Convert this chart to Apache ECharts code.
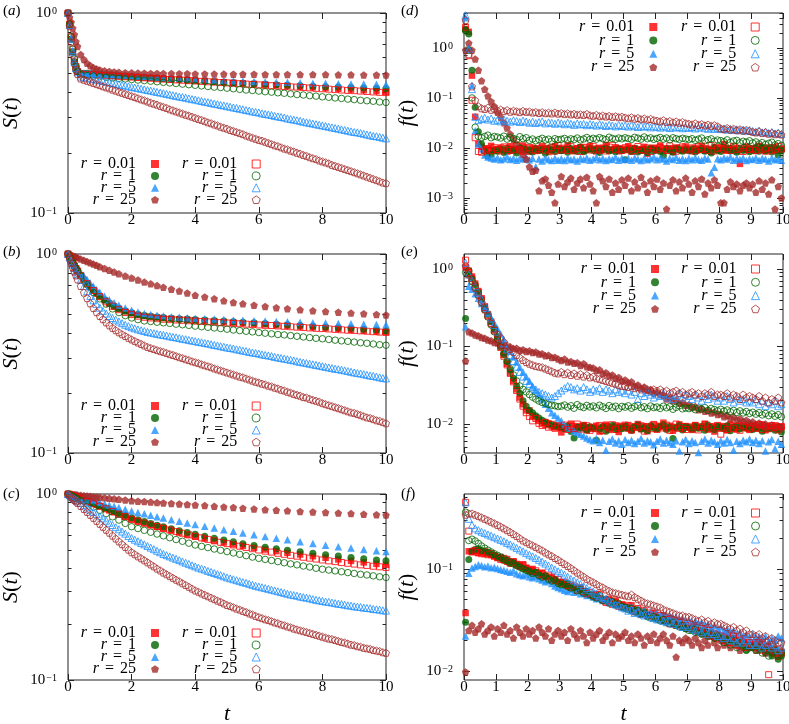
<!DOCTYPE html>
<html lang="en">
<head>
<meta charset="UTF-8">
<title>S(t) and f(t)</title>
<script src="https://cdn.jsdelivr.net/npm/echarts@6.0.0/dist/echarts.min.js"></script>
<style>
  html, body { margin: 0; padding: 0; background: #fff; }
  #main { width: 789px; height: 724px; }
</style>
</head>
<body>
<div id="main"></div>
<script>
// ---- sampling times ----
var tS1 = [0,0.05,0.1,0.15,0.2,0.25,0.3,
  0.4,0.5,0.6,0.7,0.8,0.9,1,1.1,1.2,1.3,1.4,1.5,1.6,1.7,1.8,1.9,2,2.1,2.2,2.3,
  2.4,2.5,2.6,2.7,2.8,2.9,3,3.1,3.2,3.3,3.4,3.5,3.6,3.7,3.8,3.9,4,4.1,4.2,4.3,
  4.4,4.5,4.6,4.7,4.8,4.9,5,5.1,5.2,5.3,5.4,5.5,5.6,5.7,5.8,5.9,6,6.1,6.2,6.3,
  6.4,6.5,6.6,6.7,6.8,6.9,7,7.1,7.2,7.3,7.4,7.5,7.6,7.7,7.8,7.9,8,8.1,8.2,8.3,
  8.4,8.5,8.6,8.7,8.8,8.9,9,9.1,9.2,9.3,9.4,9.5,9.6,9.7,9.8,9.9,10];
var tS2 = [0,0.05,0.1,0.15,0.2,0.25,0.3,
  0.4,0.6,0.8,1,1.2,1.4,1.6,1.8,2,2.2,2.4,2.6,2.8,3,3.2,3.4,3.6,3.8,4,4.2,
  4.4,4.6,4.8,5,5.2,5.4,5.6,5.8,6,6.2,6.4,6.6,6.8,7,7.2,7.4,7.6,7.8,8,8.2,
  8.4,8.6,8.8,9,9.2,9.4,9.6,9.8,10];
var tF = [0,0.05,0.1,0.15,0.2,0.25,0.3, 0.4,0.5,0.6,0.7,0.8,0.9,1, 1.15,1.3,1.45,1.6,1.8,2,
  2.2,2.4,2.6,2.8,3, 3.25,3.5,3.75,4, 4.3,4.6,4.9,5.2,5.5, 5.85,6.2,6.55,6.9, 7.3,7.7,8.1,8.5,8.9,9.3,9.7,10];
var tH = [0.05,0.15,0.25,0.35,0.45,0.55,0.65,0.75,0.85,0.95,
  1.05,1.15,1.25,1.35,1.45,1.55,1.65,1.75,1.85,1.95,
  2.05,2.15,2.25,2.35,2.45,2.55,2.65,2.75,2.85,2.95,
  3.05,3.15,3.25,3.35,3.45,3.55,3.65,3.75,3.85,3.95,
  4.05,4.15,4.25,4.35,4.45,4.55,4.65,4.75,4.85,4.95,
  5.05,5.15,5.25,5.35,5.45,5.55,5.65,5.75,5.85,5.95,
  6.05,6.15,6.25,6.35,6.45,6.55,6.65,6.75,6.85,6.95,
  7.05,7.15,7.25,7.35,7.45,7.55,7.65,7.75,7.85,7.95,
  8.05,8.15,8.25,8.35,8.45,8.55,8.65,8.75,8.85,8.95,
  9.05,9.15,9.25,9.35,9.45,9.55,9.65,9.75,9.85,9.95];

// ---- legend and tick labels ----
var rLabels = ['0.01', '1', '5', '25'];
var sMajor = [0.1, 1];
var dMajor = [0.001, 0.01, 0.1, 1];
var eMajor = [0.01, 0.1, 1];
var fMajor = [0.01, 0.1];

// ---- panel (a): S(t) ----
var aFill001 = [1,.87,.74,.64,.57,.53,.51, .497,.496,.495,.494,.493,.492,.491, .489,.488,.486,.484,.482,.480,
  .478,.476,.474,.472,.470, .467,.465,.462,.460, .457,.454,.451,.448,.445, .442,.439,.435,.432, .428,.425,.421,.418,.414,.411,.407,.404];
var aFill1 = [1,.87,.74,.64,.57,.53,.51, .500,.499,.498,.497,.496,.495,.494, .492,.490,.489,.487,.485,.483,
  .480,.478,.476,.474,.471, .468,.466,.463,.460, .457,.454,.451,.448,.446, .443,.440,.438,.435, .433,.430,.428,.426,.424,.422,.420,.419];
var aFill5 = [1,.88,.75,.65,.58,.54,.515, .505,.503,.502,.500,.499,.498,.497, .495,.493,.491,.490,.488,.486,
  .484,.482,.480,.478,.476, .474,.472,.470,.468, .466,.463,.461,.459,.457, .455,.453,.451,.450, .448,.446,.445,.443,.442,.441,.440,.439];
var aFill25 = [1,.95,.90,.84,.78,.72,.68, .62,.585,.56,.545,.533,.525,.519, .514,.510,.507,.505,.503,.502,
  .501,.500,.499,.499,.498, .498,.497,.497,.496, .496,.495,.495,.494,.494, .494,.493,.493,.493, .492,.492,.492,.491,.491,.490,.490,.490];
var aOpen001 = [1,.88,.76,.66,.59,.54,.51,
  .495,.493,.491,.488,.486,.484,.482,.480,.478,.476,
  .474,.472,.469,.467,.465,.463,.461,.459,.457,.455,
  .453,.451,.449,.447,.445,.443,.441,.439,.437,.435,
  .433,.431,.429,.427,.426,.424,.422,.420,.418,.416,
  .414,.412,.410,.409,.407,.405,.403,.401,.400];
var aOpen1 = [1,.88,.76,.66,.59,.54,.51,
  .490,.487,.484,.480,.477,.474,.471,.468,.465,.462,
  .459,.456,.453,.450,.447,.444,.441,.438,.435,.432,
  .429,.426,.424,.421,.418,.415,.412,.410,.407,.404,
  .402,.399,.397,.394,.391,.389,.386,.384,.381,.379,
  .376,.374,.371,.369,.366,.364,.362,.359,.357];
var aOpen5 = [1,.87,.74,.64,.57,.53,.505,
  .481,.477,.474,.470,.467,.463,.460,.457,.453,.450,
  .447,.443,.440,.437,.434,.430,.427,.424,.421,.418,
  .415,.412,.409,.406,.403,.400,.397,.394,.391,.388,
  .385,.382,.380,.377,.374,.371,.369,.366,.363,.360,
  .358,.355,.352,.350,.347,.345,.342,.340,.337,.335,
  .332,.330,.327,.325,.322,.320,.318,.315,.313,.311,
  .309,.306,.304,.302,.300,.297,.295,.293,.291,.289,
  .286,.284,.282,.280,.278,.276,.274,.272,.270,.268,
  .266,.264,.262,.260,.258,.256,.254,.253,.251,.249,
  .247,.245,.243,.242,.240,.238,.236];
var aOpen25 = [1,.86,.72,.62,.56,.52,.495,
  .470,.464,.458,.453,.447,.441,.436,.430,.425,.420,
  .414,.409,.404,.399,.394,.389,.384,.380,.375,.370,
  .366,.361,.356,.352,.348,.343,.339,.335,.330,.326,
  .322,.318,.314,.310,.307,.303,.299,.295,.292,.288,
  .284,.281,.277,.274,.270,.267,.264,.260,.257,.254,
  .251,.248,.244,.241,.238,.235,.232,.230,.227,.224,
  .221,.218,.216,.213,.210,.208,.205,.203,.200,.198,
  .195,.193,.190,.188,.186,.183,.181,.179,.177,.174,
  .172,.170,.168,.166,.164,.162,.160,.158,.156,.154,
  .152,.150,.148,.146,.144,.142,.141];

// ---- panel (b): S(t) ----
var bFill001 = [1,.965,.93,.9,.87,.845,.82, .777,.74,.708,.68,.655,.632,.612, .586,.563,.545,.530,.515,.503,
  .494,.488,.483,.479,.476, .473,.470,.467,.464, .461,.458,.455,.452,.449, .446,.443,.439,.436, .432,.428,.424,.420,.416,.412,.408,.405];
var bFill1 = [1,.967,.935,.905,.877,.85,.826, .782,.745,.712,.683,.658,.635,.615, .588,.565,.547,.532,.517,.506,
  .497,.491,.486,.482,.479, .476,.473,.471,.468, .466,.463,.460,.457,.454, .451,.447,.444,.441, .437,.433,.430,.426,.423,.419,.415,.412];
var bFill5 = [1,.975,.95,.925,.90,.877,.855, .815,.778,.745,.715,.688,.664,.642, .613,.589,.569,.552,.535,.521,
  .511,.503,.497,.492,.488, .484,.481,.478,.476, .473,.471,.468,.466,.464, .462,.460,.458,.456, .454,.452,.450,.448,.446,.444,.442,.441];
var bFill25 = [1,.993,.986,.979,.971,.964,.957, .943,.93,.916,.903,.89,.877,.864, .846,.828,.811,.795,.776,.758,
  .741,.723,.708,.694,.68, .666,.652,.636,.62, .608,.596,.582,.571,.562, .553,.545,.537,.531, .524,.519,.514,.510,.505,.501,.497,.494];
var bOpen001 = [1,.965,.93,.9,.872,.846,.822,
  .78,.71,.655,.61,.575,.547,.525,.508,.496,.487,.481,.477,.473,.470,
  .468,.466,.464,.462,.460,.458,.456,.454,.452,.450,
  .448,.446,.444,.442,.440,.438,.437,.435,.433,.431,
  .429,.427,.425,.423,.422,.420,.418,.416,.414,.413,
  .411,.409,.407,.405,.404];
var bOpen1 = [1,.965,.93,.9,.87,.845,.82,
  .775,.70,.64,.595,.56,.53,.508,.49,.477,.468,.461,
  .458,.454,.451,.448,.444,.441,.438,.434,.431,.428,
  .425,.422,.419,.415,.412,.409,.406,.403,.400,.397,
  .394,.392,.389,.386,.383,.380,.377,.375,.372,.369,
  .366,.364,.361,.358,.356,.353,.350,.348];
var bOpen5 = [1,.96,.92,.885,.85,.82,.79,
  .74,.69,.65,.615,.585,.56,.537,.518,.502,.488,
  .477,.468,.458,.449,.441,.434,.428,.423,.418,.414,.410,
  .406,.403,.400,.397,.394,.392,.389,.386,.383,.381,
  .378,.375,.373,.370,.367,.365,.362,.360,.357,.355,
  .352,.349,.347,.344,.342,.339,.337,.335,.332,.330,
  .327,.325,.322,.320,.318,.316,.313,.311,.309,.307,
  .304,.302,.300,.298,.296,.294,.292,.289,.287,.285,
  .283,.281,.279,.277,.275,.273,.271,.269,.267,.265,
  .264,.262,.260,.258,.256,.254,.252,.251,.249,.247,
  .245,.244,.242,.240,.238,.237];
var bOpen25 = [1,.95,.9,.855,.815,.78,.745,
  .69,.64,.60,.565,.535,.51,.488,.47,.453,.438,
  .425,.414,.404,.395,.387,.379,.372,.365,.359,.353,.347,
  .341,.337,.333,.329,.325,.322,.318,.314,.311,.307,
  .303,.300,.296,.293,.289,.286,.283,.279,.276,.273,
  .270,.266,.263,.260,.257,.254,.251,.248,.245,.242,
  .240,.237,.234,.231,.228,.226,.223,.221,.218,.216,
  .213,.211,.208,.206,.203,.201,.198,.196,.194,.191,
  .190,.187,.185,.183,.181,.178,.176,.174,.172,.170,
  .168,.166,.164,.162,.160,.159,.157,.155,.153,.151,
  .150,.148,.146,.145,.143,.141];

// ---- panel (c): S(t) ----
var cFill001 = [1,.992,.985,.977,.97,.962,.955, .941,.927,.913,.9,.887,.874,.858, .837,.816,.797,.778,.755,.73,
  .712,.696,.68,.666,.652, .636,.62,.605,.591, .576,.562,.549,.537,.526, .514,.503,.493,.483, .473,.463,.454,.445,.437,.429,.421,.416];
var cFill1 = [1,.993,.986,.979,.972,.965,.958, .944,.93,.917,.904,.891,.878,.865, .846,.827,.809,.791,.768,.746,
  .728,.711,.695,.68,.666, .65,.635,.62,.607, .592,.578,.565,.553,.541, .529,.518,.508,.499, .489,.48,.472,.464,.456,.449,.442,.437];
var cFill5 = [1,.995,.99,.985,.98,.975,.97, .96,.95,.94,.93,.92,.91,.90, .886,.872,.858,.845,.828,.81,
  .796,.782,.768,.755,.742, .728,.713,.699,.685, .671,.657,.643,.63,.618, .604,.591,.579,.567, .554,.542,.531,.521,.512,.503,.495,.49];
var cFill25 = [1,.998,.996,.994,.992,.99,.988, .984,.98,.976,.972,.968,.964,.96, .954,.948,.942,.936,.928,.92,
  .915,.91,.905,.90,.895, .89,.884,.879,.873, .866,.859,.852,.846,.839, .831,.824,.818,.812, .806,.801,.796,.79,.785,.779,.774,.77];
var cOpen001 = [1,.992,.985,.977,.97,.962,.955,
  .94,.912,.885,.859,.832,.805,.78,.755,.731,
  .714,.698,.683,.668,.654,.641,.628,.615,.603,.592,
  .581,.570,.560,.550,.541,.532,.524,.516,.508,.500,
  .493,.487,.480,.474,.468,.463,.457,.452,.447,.442,
  .437,.433,.428,.424,.420,.416,.413,.409,.406,.403];
var cOpen1 = [1,.99,.98,.97,.96,.95,.94,
  .921,.885,.85,.817,.785,.754,.724,.695,.667,
  .652,.638,.623,.609,.596,.582,.569,.557,.544,.532,
  .523,.515,.506,.498,.490,.482,.474,.466,.458,.451,
  .445,.439,.433,.427,.421,.416,.410,.405,.399,.394,
  .390,.386,.382,.378,.374,.370,.367,.363,.359,.356];
var cOpen5 = [1,.986,.973,.959,.946,.933,.920,
  .895,.871,.847,.824,.802,.780,.759,
  .739,.719,.700,.681,.663,.646,.628,.612,.595,.580,
  .568,.557,.546,.536,.525,.515,.505,.495,.486,.476,
  .469,.462,.455,.448,.441,.434,.427,.421,.414,.408,
  .402,.397,.392,.386,.381,.376,.371,.366,.361,.356,
  .352,.348,.344,.340,.336,.333,.329,.325,.321,.318,
  .315,.312,.309,.306,.303,.300,.297,.294,.291,.288,
  .286,.284,.281,.279,.277,.275,.272,.270,.268,.266,
  .264,.263,.261,.259,.257,.256,.254,.252,.251,.249,
  .248,.247,.245,.244,.243,.241,.240,.239,.237,.236];
var cOpen25 = [1,.982,.964,.946,.929,.912,.895,
  .862,.831,.801,.772,.744,.717,.691,.666,.642,.619,.597,.576,
  .556,.537,.519,.502,.486,
  .474,.462,.451,.440,.429,.418,.408,.397,.388,.378,
  .370,.362,.354,.346,.339,.331,.324,.317,.310,.303,
  .298,.292,.287,.282,.277,.272,.267,.263,.258,.253,
  .250,.246,.242,.239,.235,.232,.228,.225,.221,.218,
  .215,.212,.210,.207,.204,.202,.199,.197,.194,.192,
  .189,.187,.185,.183,.181,.179,.177,.175,.173,.171,
  .169,.167,.166,.164,.162,.160,.159,.157,.155,.154,
  .152,.151,.149,.148,.147,.145,.144,.143,.141,.140];

// ---- panel (d): f(t) ----
var dFill001 = [2.4,2.1,0.28,0.042,0.012,.0105,.0098,.0092,.0110,.0088,
  .0095,.0102,.0090,.0085,.0108,.0093,.0087,.0099,.0112,.0090,
  .0084,.0101,.0094,.0089,.0106,.0097,.0083,.0092,.0109,.0100,
  .0088,.0095,.0113,.0091,.0086,.0098,.0104,.0087,.0093,.0110,
  .0096,.0085,.0100,.0092,.0115,.0089,.0094,.0103,.0086,.0097,
  .0091,.0108,.0084,.0099,.0093,.0088,.0105,.0077,.0096,.0101,
  .0090,.0112,.0087,.0094,.0099,.0083,.0102,.0095,.0089,.0107,
  .0092,.0086,.0100,.0094,.0111,.0088,.0096,.0084,.0103,.0091,
  .0098,.0120,.0089,.0095,.0101,.0086,.0048,.0093,.0106,.0090,
  .0097,.0087,.0110,.0094,.0085,.0099,.0092,.0104,.0088,.0096];
var dFill1 = [2.3,1.9,0.36,0.065,0.021,.012,.0085,.0068,.0075,.0090,
  .0086,.0094,.0081,.0099,.0088,.0092,.0079,.0101,.0087,.0095,
  .0090,.0083,.0097,.0089,.0093,.0078,.0100,.0091,.0085,.0096,
  .0088,.0094,.0082,.0098,.0090,.0086,.0103,.0084,.0092,.0097,
  .0089,.0095,.0081,.0093,.0099,.0087,.0091,.0084,.0096,.0088,
  .0058,.0092,.0086,.0097,.0083,.0090,.0094,.0080,.0099,.0087,
  .0093,.0085,.0070,.0096,.0089,.0082,.0098,.0091,.0086,.0094,
  .0088,.0095,.0083,.0090,.0097,.0086,.0092,.0079,.0100,.0089,
  .0085,.0093,.0098,.0087,.0091,.0082,.0096,.0089,.0094,.0084,
  .0090,.0097,.0086,.0105,.0088,.0093,.0083,.0095,.0072,.0089];
var dFill5 = [4.0,1.0,0.18,0.022,0.012,.0095,.0072,.0066,.0063,.0060,
  .0064,.0058,.0061,.0067,.0059,.0062,.0057,.0063,.0060,.0065,
  .0058,.0062,.0042,.0060,.0055,.0064,.0059,.0056,.0062,.0057,
  .0061,.0056,.0063,.0058,.0060,.0055,.0062,.0059,.0064,.0057,
  .0060,.0065,.0058,.0062,.0056,.0061,.0059,.0066,.0057,.0063,
  .0059,.0062,.0057,.0064,.0060,.0056,.0063,.0058,.0061,.0066,
  .0058,.0063,.0060,.0055,.0062,.0059,.0065,.0057,.0061,.0056,
  .0062,.0058,.0064,.0059,.0057,.0063,.0060,.0032,.0041,.0061,
  .0058,.0064,.0060,.0066,.0057,.0062,.0059,.0063,.0056,.0061,
  .0059,.0064,.0057,.0062,.0060,.0055,.0063,.0058,.0061,.0057];
var dFill25 = [0.9,1.25,0.9,0.6,0.36,0.22,0.15,0.11,0.085,0.068,
  .052,.041,.032,.025,.019,.015,.012,.0095,.0075,.0060,
  .0042,.0034,.0036,.0014,.0022,.0024,.0018,.0013,.0008,.0019,
  .0027,.0017,.0021,.0025,.0015,.0020,.0024,.0016,.0026,.0019,
  .0014,.0008,.0027,.0022,.0017,.0024,.0013,.0020,.0015,.0023,
  .0018,.0025,.0014,.0021,.0016,.0026,.0019,.0013,.0022,.0017,
  .0024,.0015,.0020,.0006,.0018,.0023,.0014,.0021,.0016,.0025,
  .0019,.0013,.0022,.0017,.0024,.0012,.0020,.0016,.0023,.0018,
  .0008,.0008,.0015,.0021,.0017,.0019,.0014,.0018,.0020,.0016,
  .0019,.0013,.0022,.0015,.0020,.0012,.0023,.0006,.0017,.0010];
var dOpen001 = [2.6,0.7,0.09,0.016,.0085,.0082,.0090,.0096,.0088,.0101,
  .0093,.0087,.0105,.0098,.0089,.0094,.0110,.0091,.0086,.0099,
  .0103,.0092,.0088,.0097,.0108,.0090,.0095,.0101,.0087,.0112,
  .0094,.0099,.0089,.0106,.0092,.0097,.0085,.0103,.0100,.0091,
  .0108,.0095,.0090,.0099,.0087,.0104,.0113,.0092,.0096,.0089,
  .0101,.0094,.0098,.0088,.0107,.0093,.0090,.0100,.0085,.0096,
  .0092,.0103,.0097,.0089,.0110,.0094,.0086,.0099,.0105,.0091,
  .0095,.0100,.0088,.0106,.0093,.0098,.0090,.0112,.0087,.0097,
  .0102,.0091,.0096,.0089,.0108,.0094,.0099,.0085,.0103,.0093,
  .0098,.0090,.0105,.0092,.0096,.0101,.0088,.0094,.0107,.0095];
var dOpen1 = [2.2,0.9,0.10,0.026,.017,.016,.017,.018,.016,.017,
  .0165,.0158,.0172,.0150,.0162,.0155,.0147,.0168,.0153,.0160,
  .0142,.0151,.0139,.0147,.0156,.0144,.0150,.0137,.0153,.0146,
  .0149,.0155,.0143,.0152,.0147,.0158,.0145,.0151,.0162,.0148,
  .0156,.0150,.0161,.0153,.0147,.0164,.0155,.0149,.0158,.0152,
  .0160,.0154,.0148,.0163,.0157,.0150,.0166,.0153,.0159,.0149,
  .0155,.0162,.0150,.0158,.0146,.0160,.0153,.0148,.0156,.0151,
  .0147,.0153,.0142,.0150,.0158,.0139,.0146,.0152,.0136,.0144,
  .0140,.0133,.0145,.0129,.0138,.0142,.0127,.0136,.0131,.0139,
  .0126,.0132,.0120,.0128,.0117,.0124,.0130,.0115,.0122,.0113];
var dOpen5 = [4.5,0.95,0.15,0.042,.036,.038,.040,.037,.039,.035,
  .0365,.0340,.0372,.0350,.0335,.0358,.0345,.0330,.0352,.0338,
  .0320,.0335,.0315,.0328,.0340,.0310,.0325,.0318,.0305,.0322,
  .0312,.0298,.0318,.0305,.0290,.0310,.0296,.0302,.0285,.0300,
  .0292,.0280,.0298,.0286,.0275,.0290,.0282,.0270,.0288,.0276,
  .0280,.0268,.0285,.0272,.0262,.0278,.0266,.0275,.0258,.0270,
  .0265,.0255,.0272,.0260,.0250,.0268,.0256,.0262,.0248,.0258,
  .0252,.0262,.0245,.0255,.0268,.0248,.0242,.0256,.0240,.0250,
  .0238,.0245,.0232,.0240,.0228,.0236,.0225,.0233,.0220,.0230,
  .0218,.0210,.0222,.0205,.0212,.0198,.0208,.0195,.0202,.0190];
var dOpen25 = [3.6,0.75,0.17,0.09,.068,.062,.060,.064,.058,.061,
  .0560,.0585,.0545,.0570,.0530,.0555,.0540,.0520,.0550,.0528,
  .0535,.0510,.0525,.0500,.0518,.0495,.0508,.0490,.0512,.0485,
  .0498,.0475,.0490,.0468,.0482,.0460,.0472,.0455,.0478,.0450,
  .0440,.0458,.0432,.0445,.0425,.0438,.0418,.0430,.0412,.0422,
  .0405,.0392,.0410,.0385,.0398,.0375,.0388,.0368,.0380,.0360,
  .0352,.0340,.0358,.0332,.0345,.0325,.0338,.0318,.0330,.0312,
  .0305,.0295,.0310,.0288,.0300,.0282,.0292,.0276,.0285,.0270,
  .0245,.0238,.0250,.0232,.0242,.0226,.0236,.0222,.0230,.0218,
  .0210,.0204,.0214,.0198,.0206,.0192,.0200,.0188,.0195,.0185];

// ---- panel (e): f(t) ----
var eFill001 = [1.05,0.95,0.80,0.65,0.52,0.42,0.33,0.26,0.21,0.165,
  .13,.10,.078,.06,.046,.036,.028,.022,.018,.015,
  .0150,.0128,.0122,.0110,.0104,.0097,.0102,.0093,.0090,.0096,
  .0078,.0092,.0088,.0101,.0085,.0094,.0089,.0097,.0083,.0091,
  .0087,.0095,.0080,.0092,.0098,.0084,.0090,.0096,.0079,.0093,
  .0089,.0097,.0083,.0091,.0100,.0086,.0094,.0081,.0092,.0098,
  .0085,.0093,.0104,.0088,.0095,.0082,.0091,.0099,.0087,.0094,
  .0090,.0084,.0097,.0089,.0093,.0101,.0086,.0092,.0080,.0095,
  .0088,.0094,.0083,.0098,.0090,.0085,.0096,.0089,.0092,.0084,
  .0095,.0087,.0091,.0099,.0083,.0093,.0088,.0096,.0085,.0092];
var eFill1 = [0.23,0.85,0.75,0.62,0.5,0.4,0.32,0.26,0.21,0.17,
  .135,.105,.082,.064,.050,.039,.031,.025,.020,.017,
  .0150,.0140,.0128,.0120,.0112,.0106,.0100,.0098,.0095,.0092,
  .0090,.0087,.0094,.0080,.0066,.0091,.0088,.0095,.0084,.0092,
  .0089,.0062,.0086,.0093,.0081,.0090,.0096,.0085,.0091,.0087,
  .0094,.0088,.0083,.0092,.0097,.0086,.0090,.0082,.0095,.0089,
  .0087,.0093,.0098,.0085,.0091,.0065,.0089,.0096,.0084,.0092,
  .0090,.0086,.0094,.0088,.0092,.0083,.0097,.0089,.0085,.0093,
  .0091,.0087,.0095,.0082,.0090,.0094,.0086,.0092,.0088,.0096,
  .0085,.0092,.0089,.0081,.0094,.0087,.0090,.0083,.0091,.0079];
var eFill5 = [0.18,0.6,0.55,0.48,0.42,0.36,0.31,0.27,0.23,0.2,
  .17,.145,.122,.103,.087,.074,.063,.054,.047,.041,
  .036,.031,.027,.024,.021,.018,.016,.014,.013,.012,
  .011,.0098,.0092,.0087,.0082,.0078,.0074,.0070,.0066,.0063,
  .0061,.0065,.0058,.0062,.0046,.0060,.0064,.0057,.0061,.0055,
  .0063,.0058,.0062,.0056,.0060,.0065,.0057,.0061,.0059,.0054,
  .0060,.0064,.0057,.0062,.0058,.0055,.0061,.0045,.0059,.0063,
  .0056,.0061,.0058,.0043,.0060,.0064,.0057,.0062,.0059,.0055,
  .0061,.0057,.0063,.0058,.0046,.0060,.0056,.0062,.0059,.0064,
  .0058,.0062,.0056,.0061,.0045,.0059,.0063,.0048,.0060,.0055];
var eFill25 = [.065,.155,.150,.141,.138,.131,.128,.121,.119,.113,
  .111,.105,.104,.098,.099,.094,.095,.089,.091,.086,
  .088,.084,.085,.080,.081,.076,.077,.072,.073,.069,
  .066,.069,.063,.064,.061,.062,.057,.060,.055,.054,
  .053,.049,.050,.045,.046,.042,.043,.039,.040,.036,
  .037,.034,.035,.031,.032,.029,.030,.027,.028,.025,
  .026,.024,.0235,.021,.022,.020,.0205,.0185,.019,.0175,
  .0178,.0163,.0168,.0153,.0158,.0146,.0150,.0139,.0143,.0133,
  .0136,.0124,.0129,.0118,.0123,.0113,.0117,.0108,.0112,.0104,
  .0107,.0099,.0103,.0096,.0100,.0093,.0097,.0090,.0094,.0089];
var eOpen001 = [1.3,0.9,0.75,0.6,0.5,0.4,0.32,0.25,0.2,0.16,
  .125,.097,.075,.058,.045,.035,.027,.021,.017,.014,
  .0125,.0110,.0118,.0102,.0096,.0105,.0091,.0099,.0088,.0094,
  .0090,.0097,.0085,.0093,.0088,.0100,.0086,.0092,.0095,.0083,
  .0091,.0087,.0096,.0082,.0093,.0089,.0098,.0085,.0090,.0094,
  .0097,.0088,.0084,.0093,.0090,.0095,.0081,.0092,.0087,.0099,
  .0086,.0094,.0089,.0097,.0083,.0091,.0100,.0088,.0093,.0085,
  .0092,.0087,.0095,.0084,.0090,.0098,.0086,.0093,.0089,.0096,
  .0074,.0091,.0085,.0097,.0088,.0093,.0083,.0095,.0090,.0087,
  .0094,.0089,.0098,.0085,.0092,.0087,.0096,.0090,.0084,.0093];
var eOpen1 = [0.9,0.95,0.7,0.58,0.46,0.37,0.3,0.24,0.19,0.155,
  .125,.1,.08,.065,.052,.043,.036,.031,.028,.026,
  .0240,.0222,.0210,.0198,.0190,.0185,.0179,.0175,.0172,.0168,
  .0170,.0176,.0165,.0172,.0160,.0178,.0168,.0163,.0174,.0166,
  .0171,.0162,.0175,.0167,.0159,.0173,.0164,.0170,.0158,.0169,
  .0165,.0172,.0160,.0168,.0175,.0162,.0167,.0158,.0171,.0163,
  .0166,.0159,.0170,.0162,.0168,.0155,.0164,.0172,.0157,.0161,
  .0158,.0165,.0153,.0161,.0156,.0163,.0150,.0159,.0154,.0148,
  .0155,.0147,.0152,.0144,.0150,.0141,.0148,.0139,.0145,.0137,
  .0142,.0134,.0140,.0131,.0137,.0128,.0135,.0126,.0132,.0124];
var eOpen5 = [1.2,0.85,0.7,0.6,0.5,0.41,0.34,0.28,0.23,0.19,
  .155,.13,.11,.092,.077,.065,.055,.047,.041,.036,
  .033,.030,.028,.026,.025,.024,.023,.022,.023,.025,
  .027,.029,.031,.030,.028,.029,.027,.030,.028,.026,
  .028,.027,.029,.026,.028,.027,.025,.028,.026,.027,
  .025,.027,.024,.026,.021,.025,.023,.026,.024,.022,
  .024,.023,.025,.022,.024,.021,.023,.025,.022,.024,
  .023,.021,.024,.022,.020,.023,.021,.024,.022,.020,
  .022,.020,.023,.021,.019,.022,.020,.021,.019,.020,
  .019,.021,.018,.020,.017,.019,.018,.020,.017,.018];
var eOpen25 = [1.1,0.85,0.7,0.57,0.46,0.37,0.3,0.25,0.2,0.17,
  .145,.13,.115,.103,.093,.085,.078,.072,.067,.063,
  .060,.058,.056,.055,.054,.052,.050,.048,.046,.045,
  .047,.044,.046,.043,.045,.042,.044,.041,.043,.040,
  .041,.039,.038,.037,.036,.035,.034,.033,.032,.031,
  .031,.030,.031,.029,.030,.028,.029,.028,.027,.028,
  .027,.028,.026,.027,.025,.026,.027,.025,.026,.024,
  .025,.026,.024,.025,.023,.025,.024,.026,.023,.024,
  .024,.023,.025,.022,.024,.023,.021,.024,.022,.023,
  .022,.021,.023,.020,.022,.019,.021,.020,.022,.019];

// ---- panel (f): f(t) ----
var fFill001 = [.037,.149,.146,.150,.143,.147,.140,.144,.137,.133,
  .128,.131,.122,.125,.116,.119,.112,.108,.111,.103,
  .097,.100,.093,.089,.092,.085,.081,.084,.078,.075,
  .074,.071,.068,.070,.065,.063,.066,.061,.058,.056,
  .054,.057,.052,.050,.048,.051,.046,.049,.044,.045,
  .043,.041,.044,.039,.040,.037,.038,.036,.035,.037,
  .034,.032,.035,.031,.033,.030,.029,.031,.028,.027,
  .027,.026,.028,.025,.024,.026,.023,.024,.022,.023,
  .022,.021,.023,.020,.021,.019,.020,.021,.019,.018,
  .019,.018,.017,.019,.016,.017,.015,.016,.014,.015];
var fFill1 = [.030,.124,.150,.155,.158,.152,.149,.145,.140,.136,
  .131,.127,.122,.118,.113,.116,.109,.105,.101,.098,
  .095,.091,.093,.087,.084,.086,.080,.077,.079,.073,
  .071,.069,.072,.066,.064,.061,.063,.059,.057,.055,
  .053,.055,.051,.049,.050,.046,.047,.044,.045,.042,
  .041,.042,.039,.040,.037,.036,.038,.034,.035,.033,
  .032,.033,.031,.030,.031,.029,.028,.029,.027,.026,
  .026,.025,.027,.024,.023,.025,.022,.023,.021,.022,
  .021,.020,.021,.019,.020,.018,.019,.017,.016,.018,
  .017,.018,.016,.017,.015,.016,.014,.015,.013,.014];
var fFill5 = [.022,.091,.102,.106,.110,.108,.105,.107,.103,.104,
  .101,.099,.097,.095,.093,.096,.090,.088,.086,.089,
  .084,.082,.085,.080,.078,.075,.077,.072,.068,.066,
  .064,.062,.060,.063,.059,.061,.057,.058,.055,.056,
  .053,.051,.052,.049,.050,.047,.048,.045,.046,.043,
  .044,.042,.043,.040,.041,.039,.040,.037,.038,.036,
  .037,.035,.036,.034,.035,.033,.034,.032,.033,.031,
  .032,.030,.031,.029,.030,.028,.029,.027,.028,.026,
  .027,.025,.026,.024,.025,.023,.024,.022,.023,.021,
  .023,.021,.022,.020,.022,.019,.021,.020,.022,.021];
var fFill25 = [.0098,.025,.028,.024,.026,.029,.023,.025,.027,.022,
  .026,.024,.028,.023,.025,.021,.027,.024,.022,.026,
  .023,.025,.021,.027,.024,.022,.026,.020,.023,.025,
  .022,.024,.020,.026,.023,.021,.025,.022,.019,.024,
  .021,.023,.025,.020,.022,.024,.019,.023,.021,.022,
  .024,.020,.022,.019,.023,.021,.018,.022,.020,.023,
  .019,.021,.023,.020,.018,.022,.0137,.020,.019,.021,
  .020,.018,.021,.019,.017,.020,.018,.022,.019,.017,
  .020,.018,.019,.017,.021,.018,.016,.019,.018,.017,
  .018,.016,.019,.017,.015,.018,.016,.017,.015,.016];
var fOpen001 = [.45,.235,.148,.152,.145,.141,.147,.138,.142,.134,
  .130,.124,.127,.119,.114,.117,.110,.106,.109,.101,
  .098,.094,.096,.088,.090,.084,.087,.080,.077,.079,
  .072,.074,.069,.066,.068,.062,.064,.060,.057,.059,
  .055,.053,.056,.050,.047,.049,.045,.047,.043,.044,
  .042,.044,.040,.038,.041,.036,.039,.035,.037,.034,
  .033,.035,.031,.032,.029,.031,.028,.030,.027,.028,
  .026,.027,.025,.024,.026,.023,.025,.022,.023,.021,
  .022,.020,.021,.019,.022,.018,.020,.019,.017,.019,
  .018,.017,.019,.016,.017,.0092,.016,.015,.014,.015];
var fOpen1 = [.36,.19,.196,.188,.178,.168,.160,.153,.147,.141,
  .136,.131,.126,.121,.117,.112,.108,.104,.100,.097,
  .094,.090,.092,.086,.083,.085,.079,.076,.078,.072,
  .070,.072,.067,.065,.066,.061,.063,.058,.060,.056,
  .054,.052,.055,.049,.050,.047,.048,.045,.046,.043,
  .042,.040,.041,.038,.039,.036,.037,.035,.033,.034,
  .033,.031,.032,.030,.029,.030,.028,.027,.028,.026,
  .025,.026,.024,.025,.023,.024,.022,.023,.021,.022,
  .021,.019,.020,.018,.020,.017,.019,.018,.016,.017,
  .017,.016,.017,.015,.016,.014,.015,.016,.014,.015];
var fOpen5 = [.45,.31,.27,.25,.24,.232,.225,.218,.212,.205,
  .199,.193,.187,.180,.174,.167,.161,.155,.149,.143,
  .138,.133,.128,.123,.118,.113,.108,.103,.099,.095,
  .092,.088,.084,.080,.077,.074,.071,.068,.065,.062,
  .060,.057,.055,.053,.051,.049,.047,.045,.044,.042,
  .041,.039,.040,.037,.038,.036,.035,.036,.034,.033,
  .032,.033,.031,.030,.031,.029,.030,.028,.027,.028,
  .027,.026,.025,.026,.024,.025,.023,.024,.023,.022,
  .022,.021,.022,.020,.021,.019,.020,.019,.020,.018,
  .019,.018,.019,.017,.018,.019,.017,.018,.016,.017];
var fOpen25 = [.34,.35,.35,.34,.33,.32,.31,.30,.29,.28,
  .27,.26,.25,.24,.23,.22,.21,.20,.19,.183,
  .176,.170,.164,.158,.152,.145,.139,.134,.128,.123,
  .117,.112,.107,.102,.097,.092,.088,.084,.080,.077,
  .074,.071,.068,.066,.063,.061,.059,.058,.057,.056,
  .055,.054,.056,.053,.051,.049,.047,.046,.045,.044,
  .043,.042,.040,.039,.038,.037,.036,.035,.035,.034,
  .034,.033,.032,.031,.032,.030,.031,.029,.030,.029,
  .029,.028,.027,.026,.027,.025,.026,.024,.025,.023,
  .023,.022,.023,.021,.022,.020,.021,.020,.019,.019];

// series of each panel: [times, values] for r = 0.01, 1, 5, 25
var panelSeries = {
  a: { filled: [[tF, aFill001], [tF, aFill1], [tF, aFill5], [tF, aFill25]],
       open: [[tS2, aOpen001], [tS2, aOpen1], [tS1, aOpen5], [tS1, aOpen25]] },
  b: { filled: [[tF, bFill001], [tF, bFill1], [tF, bFill5], [tF, bFill25]],
       open: [[tS2, bOpen001], [tS2, bOpen1], [tS1, bOpen5], [tS1, bOpen25]] },
  c: { filled: [[tF, cFill001], [tF, cFill1], [tF, cFill5], [tF, cFill25]],
       open: [[tS2, cOpen001], [tS2, cOpen1], [tS1, cOpen5], [tS1, cOpen25]] },
  d: { filled: [[tH, dFill001], [tH, dFill1], [tH, dFill5], [tH, dFill25]],
       open: [[tH, dOpen001], [tH, dOpen1], [tH, dOpen5], [tH, dOpen25]] },
  e: { filled: [[tH, eFill001], [tH, eFill1], [tH, eFill5], [tH, eFill25]],
       open: [[tH, eOpen001], [tH, eOpen1], [tH, eOpen5], [tH, eOpen25]] },
  f: { filled: [[tH, fFill001], [tH, fFill1], [tH, fFill5], [tH, fFill25]],
       open: [[tH, fOpen001], [tH, fOpen1], [tH, fOpen5], [tH, fOpen25]] }
};

// ---- layout and style ----
var serif = "'Liberation Serif', 'DejaVu Serif', serif";
var colors = ['#ff0000', '#006400', '#1e90ff', '#a52a2a'];
var pentagon = 'path://M0,-10L9.51,-3.09L5.88,8.09L-5.88,8.09L-9.51,-3.09Z';
var shapes = ['rect', 'circle', 'triangle', pentagon];
var sizes = [6.5, 7, 7.5, 7.5];

// legend gaps are negative: the rich text box is taller than the row pitch
var layout = [
  { id: 'a', left: 68, top: 13, width: 318, height: 200, yMin: 0.1, yMax: 1, major: sMajor, xStep: 2, yTitle: 'S',
    xTitle: false, tag: [3, 4], legend: { top: 156, gap: -4.1, right: [630, 528.3] } },
  { id: 'b', left: 68, top: 254, width: 318, height: 199, yMin: 0.1, yMax: 1, major: sMajor, xStep: 2, yTitle: 'S',
    xTitle: false, tag: [3, 245], legend: { top: 398, gap: -4.0, right: [630, 528.3] } },
  { id: 'c', left: 68, top: 494, width: 318, height: 186, yMin: 0.1, yMax: 1, major: sMajor, xStep: 2, yTitle: 'S',
    xTitle: true, tag: [3, 487], legend: { top: 625, gap: -4.0, right: [630, 528.3] } },
  { id: 'd', left: 464, top: 13, width: 319, height: 200, yMin: 0.0005, yMax: 5, major: dMajor, xStep: 1, yTitle: 'f',
    xTitle: false, tag: [401, 4], legend: { top: 19, gap: -2.6, right: [131.7, 29.3] } },
  { id: 'e', left: 464, top: 254, width: 319, height: 199, yMin: 0.00423, yMax: 1.563, major: eMajor, xStep: 1, yTitle: 'f',
    xTitle: false, tag: [401, 245], legend: { top: 261, gap: -2.7, right: [130, 29] } },
  { id: 'f', left: 464, top: 494, width: 319, height: 186, yMin: 0.00816, yMax: 0.543, major: fMajor, xStep: 1, yTitle: 'f',
    xTitle: true, tag: [401, 487], legend: { top: 505, gap: -3.0, right: [130, 29] } }
];

function pairs(t, y) {
  var out = [];
  for (var i = 0; i < t.length && i < y.length; i++) out.push([t[i], y[i]]);
  return out;
}

// 2..9 times each power of ten inside the range
function minorTicks(lo, hi) {
  var out = [];
  for (var e = Math.floor(Math.log10(lo)); e <= Math.ceil(Math.log10(hi)); e++) {
    for (var m = 2; m <= 9; m++) {
      var v = m * Math.pow(10, e);
      if (v >= lo && v <= hi) out.push(v);
    }
  }
  return out;
}

function powLabel(v) {
  var e = Math.round(Math.log10(v));
  return '{b|10}{s|' + (e < 0 ? '\u2212' + (-e) : e) + '}';
}

var tickRich = {
  b: { fontFamily: serif, fontSize: 15, lineHeight: 14, color: '#000' },
  s: { fontFamily: serif, fontSize: 10, lineHeight: 6, padding: [0, 0, 0, 1], verticalAlign: 'top', color: '#000' }
};
var titleRich = {
  i: { fontFamily: serif, fontStyle: 'italic', fontSize: 22, color: '#000' },
  u: { fontFamily: serif, fontSize: 22, color: '#000' }
};
var legendRich = {
  i: { fontFamily: serif, fontStyle: 'italic', fontSize: 16, lineHeight: 12, color: '#000' },
  e: { fontFamily: serif, fontSize: 16, lineHeight: 12, padding: [0, 6], color: '#000' },
  n: { fontFamily: serif, fontSize: 16, lineHeight: 12, padding: [0, 10, 0, 0], color: '#000' }
};
var tagRich = {
  u: { fontFamily: serif, fontSize: 15, fill: '#000' },
  i: { fontFamily: serif, fontSize: 15, fontStyle: 'italic', fill: '#000' }
};

var grids = [], xAxes = [], yAxes = [], series = [], legends = [], graphics = [];

layout.forEach(function (p, i) {
  grids.push({ left: p.left, top: p.top, width: p.width, height: p.height, show: true,
    borderColor: '#222', borderWidth: 1, backgroundColor: 'rgba(0,0,0,0)',
    containLabel: false, outerBoundsMode: 'none' });

  var tick = { inside: true, length: 6, lineStyle: { color: '#222', width: 1 } };
  ['bottom', 'top'].forEach(function (side) {
    var ax = { type: 'value', gridIndex: i, position: side, min: 0, max: 10, interval: p.xStep,
      axisLine: { show: false }, splitLine: { show: false }, axisTick: tick,
      axisLabel: { show: side === 'bottom', margin: 1, fontFamily: serif, fontSize: 15, lineHeight: 13, color: '#000' } };
    if (side === 'bottom' && p.xTitle) {
      ax.name = 't';
      ax.nameLocation = 'middle';
      ax.nameGap = 23;
      ax.nameTextStyle = { fontFamily: serif, fontStyle: 'italic', fontSize: 22, color: '#000' };
    }
    xAxes.push(ax);
  });

  var minors = minorTicks(p.yMin, p.yMax);
  ['left', 'right'].forEach(function (side) {
    [[p.major, 6], [minors, 3.5]].forEach(function (tk, j) {
      var ax = { type: 'log', gridIndex: i, position: side, min: p.yMin, max: p.yMax,
        axisLine: { show: false }, splitLine: { show: false },
        axisTick: { inside: true, length: tk[1], customValues: tk[0], lineStyle: { color: '#222', width: 1 } },
        axisLabel: { show: false } };
      if (side === 'left' && j === 0) {
        ax.axisLabel = { show: true, customValues: p.major, margin: 11, formatter: powLabel, rich: tickRich };
        ax.name = '{i|' + p.yTitle + '}{u|(}{i|t}{u|)}';
        ax.nameLocation = 'middle';
        ax.nameGap = 46;
        ax.nameTextStyle = { rich: titleRich };
      }
      yAxes.push(ax);
    });
  });

  var d = panelSeries[p.id];
  d.filled.forEach(function (s, k) {
    series.push({ type: 'scatter', name: 'F' + k, xAxisIndex: 2 * i, yAxisIndex: 4 * i,
      data: pairs(s[0], s[1]), symbol: shapes[k], symbolSize: sizes[k], clip: false, silent: true,
      itemStyle: { color: colors[k] }, emphasis: { disabled: true } });
  });
  d.open.forEach(function (s, k) {
    series.push({ type: 'scatter', name: 'O' + k, xAxisIndex: 2 * i, yAxisIndex: 4 * i,
      data: pairs(s[0], s[1]), symbol: shapes[k], symbolSize: sizes[k] - 0.5, clip: false, silent: true,
      itemStyle: { color: 'rgba(0,0,0,0)', borderColor: colors[k], borderWidth: 1 }, emphasis: { disabled: true } });
  });

  ['F', 'O'].forEach(function (kind, c) {
    legends.push({
      orient: 'vertical', align: 'right', right: p.legend.right[c], top: p.legend.top,
      padding: 0, itemGap: p.legend.gap, itemWidth: 8, itemHeight: 8, selectedMode: false,
      data: [kind + '0', kind + '1', kind + '2', kind + '3'],
      itemStyle: { borderWidth: 1 },
      formatter: function (name) { return '{i|r}{e|=}{n|' + rLabels[+name.charAt(1)] + '}'; },
      textStyle: { fontFamily: serif, fontSize: 16, color: '#000', rich: legendRich }
    });
  });

  graphics.push({ type: 'text', left: p.tag[0], top: p.tag[1], silent: true,
    style: { text: '{u|(}{i|' + p.id + '}{u|)}', rich: tagRich } });
});

var chart = echarts.init(document.getElementById('main'), null, { renderer: 'canvas' });
chart.setOption({
  animation: false,
  backgroundColor: '#fff',
  grid: grids,
  xAxis: xAxes,
  yAxis: yAxes,
  legend: legends,
  graphic: graphics,
  series: series
});
</script>
</body>
</html>
